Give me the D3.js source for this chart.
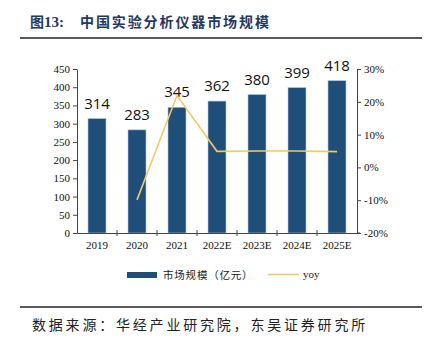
<!DOCTYPE html>
<html>
<head>
<meta charset="utf-8">
<script src="https://cdn.jsdelivr.net/npm/d3@7"></script>
<style>
  body { margin: 0; background: #fff; }
  svg { display: block; }
</style>
</head>
<body>
<svg id="chart" width="429" height="339"></svg>
<script>
const years = ["2019", "2020", "2021", "2022E", "2023E", "2024E", "2025E"];
const marketSize = [314, 283, 345, 362, 380, 399, 418];
const yoy = [null, -9.9, 21.9, 4.9, 5.0, 5.0, 4.8];
const leftTicks = [0, 50, 100, 150, 200, 250, 300, 350, 400, 450];
const rightTicks = [-20, -10, 0, 10, 20, 30];

const svg = d3.select("#chart");
const serif = "'Liberation Serif', 'DejaVu Serif', serif";
const cjk = "'Noto Sans CJK SC', sans-serif";

// title and rules
const title = svg.append("text")
    .attr("x", 30).attr("y", 27)
    .attr("fill", "#1f3864")
    .attr("font-size", 14).attr("font-weight", "bold");
title.append("tspan").attr("font-family", cjk).text("图");
title.append("tspan").attr("font-family", serif).attr("font-size", 15).text("13:");
title.append("tspan").attr("x", 80).attr("font-family", cjk).attr("letter-spacing", 1.9)
    .text("中国实验分析仪器市场规模");

svg.append("line").attr("x1", 20).attr("x2", 422).attr("y1", 38).attr("y2", 38)
    .attr("stroke", "#222").attr("stroke-width", 1.5);
svg.append("line").attr("x1", 20).attr("x2", 422).attr("y1", 307).attr("y2", 307)
    .attr("stroke", "#222").attr("stroke-width", 1.5);
svg.append("text")
    .attr("x", 32).attr("y", 330)
    .attr("fill", "#222").attr("font-size", 14)
    .attr("letter-spacing", 2.8)
    .attr("font-family", cjk)
    .text("数据来源：华经产业研究院，东吴证券研究所");

const plotLeft = 77, plotRight = 357, plotTop = 69, plotBottom = 233;

const x = d3.scaleBand().domain(years).range([plotLeft, plotRight]);
const y = d3.scaleLinear().domain([0, 450]).range([plotBottom, plotTop]);
const y2 = d3.scaleLinear().domain([-20, 30]).range([plotBottom, plotTop]);

// bars
svg.append("g").selectAll("rect")
    .data(marketSize)
    .join("rect")
    .attr("x", (d, i) => x(years[i]) + x.bandwidth() / 2 - 9)
    .attr("width", 18)
    .attr("y", d => y(d))
    .attr("height", d => y(0) - y(d))
    .attr("fill", "#1f4e79")
    .attr("stroke", "#b4c7dc").attr("stroke-width", 0.6);

// value labels
svg.append("g").selectAll("text")
    .data(marketSize)
    .join("text")
    .attr("x", (d, i) => x(years[i]) + x.bandwidth() / 2)
    .attr("y", d => y(d) - 10)
    .attr("text-anchor", "middle")
    .attr("font-size", 15)
    .attr("font-family", "'Open Sans', 'Noto Sans', sans-serif")
    .attr("fill", "#111")
    .text(d => d);

// yoy line
const line = d3.line()
    .defined(d => d != null)
    .x((d, i) => x(years[i]) + x.bandwidth() / 2)
    .y(d => y2(d));
svg.append("path")
    .datum(yoy)
    .attr("d", line)
    .attr("fill", "none")
    .attr("stroke", "#f0c96a")
    .attr("stroke-width", 1.6);

// axes
const axisLeft = svg.append("g")
    .attr("transform", `translate(${plotLeft},0)`)
    .call(d3.axisLeft(y).tickValues(leftTicks).tickSize(4).tickPadding(3).tickSizeOuter(0));
const axisRight = svg.append("g")
    .attr("transform", `translate(${plotRight},0)`)
    .call(d3.axisRight(y2).tickValues(rightTicks).tickSize(4).tickPadding(3).tickSizeOuter(0)
        .tickFormat(d => d + "%"));
const axisBottom = svg.append("g")
    .attr("transform", `translate(0,${plotBottom})`)
    .call(d3.axisBottom(x).tickSize(0).tickPadding(8));

// category boundary ticks on the x axis
svg.append("g").selectAll("line")
    .data(years.slice(1))
    .join("line")
    .attr("x1", d => x(d)).attr("x2", d => x(d))
    .attr("y1", plotBottom - 3).attr("y2", plotBottom + 3)
    .attr("stroke", "#444");
svg.append("line").attr("x1", plotRight).attr("x2", plotRight + 3)
    .attr("y1", plotBottom).attr("y2", plotBottom).attr("stroke", "#444");

[axisLeft, axisRight, axisBottom].forEach(g => {
    g.selectAll("path, line").attr("stroke", "#444");
    g.selectAll("text").attr("font-family", serif).attr("font-size", 11).attr("fill", "#111");
});

// legend
const legend = svg.append("g");
legend.append("rect").attr("x", 127).attr("y", 272).attr("width", 30).attr("height", 6)
    .attr("fill", "#1f4e79");
legend.append("text").attr("x", 163).attr("y", 279)
    .attr("font-size", 10.5).attr("letter-spacing", 0.8)
    .attr("font-family", cjk).attr("fill", "#222")
    .text("市场规模（亿元）");
legend.append("line").attr("x1", 268).attr("x2", 299).attr("y1", 274.5).attr("y2", 274.5)
    .attr("stroke", "#f0c96a").attr("stroke-width", 1.6);
legend.append("text").attr("x", 303).attr("y", 278)
    .attr("font-size", 11).attr("font-family", serif).attr("fill", "#222")
    .text("yoy");
</script>
</body>
</html>
